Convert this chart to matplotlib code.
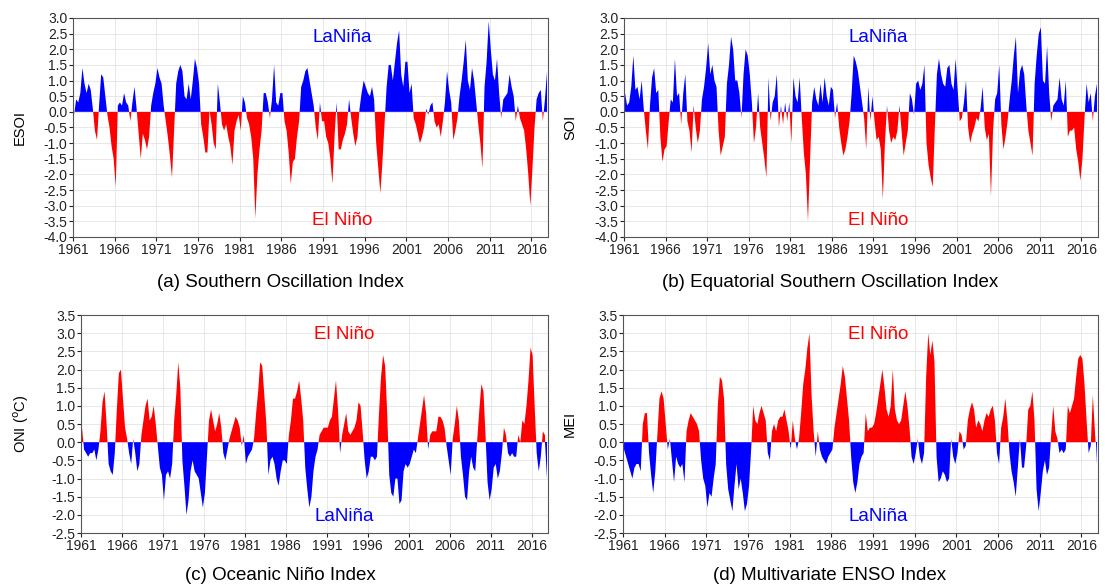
import numpy as np
import matplotlib
matplotlib.use("Agg")
import matplotlib.pyplot as plt
from matplotlib.ticker import FormatStrFormatter

plt.rcParams['font.family'] = ['Liberation Sans', 'DejaVu Sans']

# Seasonal (3-monthly) index values, four per year, 1961-2017
START_YEAR = 1961
END_YEAR = 2018
year_ticks = list(range(1961, 2017, 5))

esoi = [
    -0.1, 0.4, 0.3, 0.6,   1.4, 0.9, 0.6, 0.9,   0.7, 0.1, -0.6, -0.9,   0.2, 1.2, 1.1, 0.5,
    -0.1, -0.5, -1.1, -1.5,  -2.4, 0.2, 0.3, 0.2,   0.6, 0.3, 0.2, -0.3,   0.3, 0.8, 0.1, -0.7,
    -1.5, -0.7, -0.9, -1.2,  -0.8, 0.2, 0.6, 0.9,   1.4, 1.1, 0.9, 0.2,   -0.3, -0.8, -1.4, -2.1,
    -0.6, 0.9, 1.3, 1.5,   1.3, 0.5, 0.4, 0.9,   0.4, 1.0, 1.7, 1.4,   0.9, -0.4, -0.8, -1.3,
    -1.3, 0.05, -0.4, -1.0,  -1.2, 0.9, 0.3, -0.4,  -0.6, -0.4, -0.8, -1.1,  -1.7, -0.6, -0.3, -0.1,
    -0.6, 0.5, 0.3, -0.2,  -0.4, -0.8, -1.5, -3.4,  -2.0, -1.2, -0.6, 0.6,   0.6, 0.3, -0.2, 0.4,
    1.5, 0.3, 0.2, 0.6,   0.6, -0.3, -0.6, -1.3,  -2.3, -1.6, -1.5, -0.8,  -0.3, 0.8, 1.0, 1.3,
    1.4, 1.0, 0.6, 0.2,   -0.5, -0.9, 0.3, -0.3,  -0.3, -0.8, -1.0, -1.5,  -2.3, -0.8, 0.3, -1.2,
    -1.2, -0.9, -0.7, -0.4,  0.4, -0.2, -0.7, -1.1,  -0.8, 0.1, 0.6, 1.0,   0.8, 0.6, 0.5, 0.8,
    0.4, -1.0, -1.8, -2.6,  -1.6, -0.4, 0.8, 1.5,   1.5, 1.0, 1.6, 2.2,   2.6, 1.2, 0.8, 1.6,
    1.6, 0.6, 0.9, -0.2,  -0.4, -0.7, -1.0, -0.8,  -0.5, 0.1, -0.1, 0.2,   0.3, -0.3, -0.5, -0.4,
    -0.8, -0.3, 0.3, 1.3,  0.7, 0.3, -0.9, -0.6,  -0.2, 0.5, 1.0, 1.6,   2.3, 1.0, 0.7, 1.4,
    1.0, 0.3, -0.4, -1.0,  -1.8, 0.8, 1.6, 2.9,   2.0, 1.2, 1.0, 1.7,   0.6, -0.2, 0.4, 0.5,
    0.6, 1.2, 0.8, 0.5,   -0.3, 0.2, -0.2, -0.4,  -0.6, -1.2, -2.0, -3.0,  -1.8, -0.5, 0.4, 0.6,
    0.7, -0.3, 0.4, 1.3,
]

soi = [
    0.6, 0.2, 0.3, 0.8,   1.8, 0.7, 0.8, 0.4,   1.0, 0.1, -0.6, -1.2,   0.2, 1.1, 1.4, 0.6,
    0.7, -0.8, -1.6, -1.2,  -1.1, -0.3, 0.4, 0.3,   1.7, 0.5, 0.6, -0.4,   0.6, 1.2, -0.3, -0.6,
    -1.3, 0.2, -0.5, -1.0,  -0.6, 0.4, 0.8, 1.4,   2.2, 1.2, 1.5, 1.0,   0.8, -0.6, -1.4, -1.1,
    -0.8, 0.9, 1.5, 2.4,   2.0, 1.0, 1.0, 0.6,   -0.2, 1.2, 2.0, 1.8,   1.2, 0.3, -1.0, -0.5,
    0.6, -0.5, -1.0, -1.5,  -2.1, 1.1, -0.3, 0.3,   0.5, 1.2, -0.5, 0.2,   -0.4, 0.3, -0.3, 0.3,
    -1.0, 1.1, 0.5, 0.3,   1.1, -0.2, -1.3, -2.0,  -3.5, -1.5, 0.3, 0.8,   0.4, 0.2, 0.9, 0.3,
    1.1, 0.5, 0.2, 0.8,   0.7, -0.2, 0.3, -0.5,  -1.0, -1.4, -1.2, -0.8,  -0.3, 0.6, 1.8, 1.6,
    1.3, 0.8, 0.3, -0.2,  -1.2, 0.8, -0.3, 0.5,  -0.3, -0.9, -0.8, -1.2,  -2.8, -1.0, 0.2, -0.6,
    -1.0, -0.8, -0.9, -0.6,  0.2, -0.6, -1.4, -1.0,  -0.6, 0.6, 0.4, -0.1,  0.9, 1.0, 0.7, 0.9,
    1.5, -1.0, -1.7, -2.1,  -2.4, -0.5, 1.2, 1.7,   1.2, 0.9, 0.8, 1.4,   1.5, 0.9, 0.7, 1.7,
    0.7, -0.3, -0.2, 0.3,  1.0, -0.5, -1.0, -0.7,  -0.5, -0.2, -0.3, 0.1,  0.8, -0.5, -0.9, -0.7,
    -2.7, -0.6, 0.4, 0.6,  1.5, -0.4, -1.2, -0.8,  -0.3, 0.4, 1.0, 1.8,   2.4, 0.6, 1.3, 1.5,
    1.2, 0.2, -0.6, -1.0,  -1.4, 0.9, 1.8, 2.5,   2.7, 1.0, 0.9, 2.1,   0.6, -0.3, 0.2, 0.3,
    0.4, 1.1, 0.4, 0.2,   1.0, -0.8, -0.6, -0.6,  -0.5, -1.2, -1.6, -2.2,  -1.5, -0.2, 0.9, 0.3,
    0.6, -0.3, 0.5, 0.9,
]

oni = [
    0.4, -0.2, -0.3, -0.4,  -0.3, -0.3, -0.2, -0.5,  -0.2, 0.3, 1.1, 1.4,   0.5, -0.6, -0.8, -0.9,
    -0.3, 0.9, 1.9, 2.0,   1.2, 0.4, 0.1, -0.3,   -0.6, 0.1, -0.3, -0.8,  -0.6, 0.2, 0.6, 1.0,
    1.2, 0.6, 0.7, 1.0,   0.5, -0.1, -0.7, -0.9,  -1.6, -0.9, -0.8, -1.0,  -0.6, 0.6, 1.3, 2.2,
    1.5, -0.5, -1.2, -2.0,  -1.6, -0.8, -0.5, -0.8,  -0.9, -1.0, -1.4, -1.8,  -1.4, -0.4, 0.6, 0.9,
    0.6, 0.3, 0.5, 0.8,   0.4, -0.3, -0.5, -0.2,  0.1, 0.3, 0.5, 0.7,   0.6, 0.4, -0.1, 0.2,
    -0.6, -0.4, -0.3, -0.2,  0.1, 0.8, 1.4, 2.2,   2.1, 1.3, 0.5, -0.9,  -0.5, -0.4, -0.6, -1.0,
    -1.2, -0.8, -0.5, -0.5,  -0.6, 0.2, 0.6, 1.2,   1.2, 1.4, 1.7, 1.2,   0.6, -0.7, -1.3, -1.8,
    -1.5, -0.8, -0.4, -0.2,  0.2, 0.3, 0.4, 0.4,   0.4, 0.6, 0.7, 1.2,   1.7, 0.9, -0.3, 0.2,
    0.5, 0.8, 0.3, 0.2,   0.3, 0.4, 0.6, 1.1,   1.0, 0.3, -0.5, -1.0,  -0.8, -0.4, -0.4, -0.5,
    -0.4, 0.8, 1.8, 2.4,   2.1, 0.8, -0.9, -1.4,  -1.5, -1.0, -1.0, -1.7,  -1.6, -0.8, -0.6, -0.7,
    -0.6, -0.4, -0.2, -0.3,  0.1, 0.5, 0.9, 1.3,   0.8, -0.2, 0.2, 0.3,   0.3, 0.3, 0.7, 0.7,
    0.6, 0.4, -0.1, -0.5,  -0.9, 0.1, 0.5, 1.0,   0.6, -0.4, -0.9, -1.5,  -1.6, -0.8, -0.4, -0.7,
    -0.8, 0.1, 0.9, 1.6,   1.4, 0.2, -1.1, -1.6,  -1.3, -0.7, -0.6, -1.0,  -0.8, -0.3, 0.4, 0.2,
    -0.3, -0.4, -0.3, -0.4,  -0.4, 0.2, 0.0, 0.6,   0.5, 1.0, 1.7, 2.6,   2.4, 1.0, -0.3, -0.8,
    -0.4, 0.3, 0.2, -1.0,
]

mei = [
    -0.2, -0.4, -0.6, -0.8,  -1.0, -0.7, -0.6, -0.6,  -0.8, 0.5, 0.8, 0.8,   -0.3, -0.9, -1.4, -0.8,
    0.2, 1.2, 1.4, 1.2,   0.5, -0.2, 0.1, -0.5,   -1.1, -0.4, -0.6, -0.7,  -0.6, -1.1, 0.3, 0.6,
    0.8, 0.7, 0.6, 0.5,   0.3, -0.5, -1.0, -1.2,  -1.8, -1.4, -1.5, -1.0,  -0.6, 1.0, 1.8, 1.7,
    1.2, -0.6, -1.3, -1.6,  -1.9, -1.2, -0.6, -1.3,  -1.0, -1.4, -1.9, -1.7,  -1.2, -0.2, 1.0, 0.6,
    0.5, 0.8, 1.0, 0.8,   0.6, -0.3, -0.5, 0.3,   0.5, 0.3, 0.6, 0.7,   0.7, 0.9, 0.6, 0.3,
    -0.2, 0.6, 0.1, -0.2,  0.1, 0.8, 1.6, 2.0,   2.6, 3.0, 1.3, 0.3,   -0.4, 0.3, -0.2, -0.4,
    -0.5, -0.6, -0.4, -0.3,  -0.2, 0.4, 0.8, 1.2,   1.6, 2.1, 1.8, 1.2,   0.6, -0.4, -1.1, -1.4,
    -1.1, -0.6, -0.4, -0.3,  0.8, 0.3, 0.4, 0.4,   0.5, 0.8, 1.2, 1.6,   2.0, 1.5, 0.9, 0.7,
    1.0, 2.0, 0.9, 0.6,   0.5, 0.6, 1.0, 1.4,   1.0, 0.4, -0.4, -0.6,  -0.3, 0.1, -0.4, -0.6,
    -0.3, 1.8, 3.0, 2.4,   2.8, 2.2, -0.4, -1.1,  -1.0, -0.8, -0.9, -1.1,  -1.0, 0.1, -0.4, -0.6,
    -0.3, 0.3, 0.2, -0.2,  -0.1, 0.6, 0.9, 1.1,   0.9, 0.4, 0.6, 0.5,   0.3, 0.6, 0.8, 0.7,
    0.9, 1.0, 0.6, -0.3,  -0.6, 0.4, 0.7, 1.2,   0.6, -0.3, -0.8, -1.1,  -1.5, -0.7, 0.1, -0.7,
    -0.7, -0.1, 0.9, 1.0,   1.4, 0.6, -1.3, -1.9,  -1.4, -0.8, -0.5, -0.9,  -0.7, 0.2, 1.0, 0.3,
    0.1, -0.3, -0.2, -0.3,  -0.2, 1.0, 0.8, 1.0,   1.2, 1.8, 2.3, 2.4,   2.3, 1.6, 0.6, -0.3,
    -0.1, 1.3, 0.3, -0.6,
]

BLUE = '#0000ff'
RED = '#ff0000'

panels = [
    # axes rect, values, y label and its pad, y range, fill colours above / below zero,
    # phase labels (axes-fraction x, text, colour), caption position and text
    dict(rect=[0.0661, 0.5970, 0.4299, 0.3724], vals=esoi, ylabel='ESOI', pad=12,
         ylim=(-4.0, 3.0), up=BLUE, down=RED, tx=0.566,
         top=('LaNiña', BLUE), bot=('El Niño', RED),
         cap_xy=(0.2534, 0.5204), caption='(a) Southern Oscillation Index'),
    dict(rect=[0.5647, 0.5970, 0.4290, 0.3724], vals=soi, ylabel='SOI', pad=12,
         ylim=(-4.0, 3.0), up=BLUE, down=RED, tx=0.536,
         top=('LaNiña', BLUE), bot=('El Niño', RED),
         cap_xy=(0.7511, 0.5204), caption='(b) Equatorial Southern Oscillation Index'),
    dict(rect=[0.0733, 0.0935, 0.4226, 0.3707], vals=oni, ylabel='ONI ($^{\\rm o}$C)', pad=15,
         ylim=(-2.5, 3.5), up=RED, down=BLUE, tx=0.563,
         top=('El Niño', RED), bot=('LaNiña', BLUE),
         cap_xy=(0.2534, 0.0221), caption='(c) Oceanic Niño Index'),
    dict(rect=[0.5638, 0.0935, 0.4299, 0.3707], vals=mei, ylabel='MEI', pad=12,
         ylim=(-2.5, 3.5), up=RED, down=BLUE, tx=0.537,
         top=('El Niño', RED), bot=('LaNiña', BLUE),
         cap_xy=(0.7511, 0.0221), caption='(d) Multivariate ENSO Index'),
]

fig = plt.figure(figsize=(11.05, 5.88), dpi=100)

for p in panels:
    ax = fig.add_axes(p['rect'])
    v = np.asarray(p['vals'], dtype=float)
    t = START_YEAR + (np.arange(len(v)) + 0.5) / 4.0
    ax.fill_between(t, 0, v, where=v >= 0, interpolate=True, color=p['up'], lw=0)
    ax.fill_between(t, 0, v, where=v <= 0, interpolate=True, color=p['down'], lw=0)

    lo, hi = p['ylim']
    ax.set_xlim(START_YEAR, END_YEAR)
    ax.set_ylim(lo, hi)
    ax.set_yticks(np.arange(lo, hi + 0.01, 0.5))
    ax.yaxis.set_major_formatter(FormatStrFormatter('%.1f'))
    ax.set_xticks(year_ticks)
    ax.tick_params(labelsize=10, length=3, width=0.8, pad=1, colors='#222222')
    ax.set_ylabel(p['ylabel'], fontsize=10.5, labelpad=p['pad'])

    ax.grid(True, color='#e4e4e4', lw=0.6)
    ax.set_axisbelow(True)
    for s in ax.spines.values():
        s.set_color('#555555')
        s.set_linewidth(0.8)

    ax.text(p['tx'], 0.912, p['top'][0], color=p['top'][1], fontsize=13.5,
            ha='center', va='center', transform=ax.transAxes)
    ax.text(p['tx'], 0.076, p['bot'][0], color=p['bot'][1], fontsize=13.5,
            ha='center', va='center', transform=ax.transAxes)
    fig.text(p['cap_xy'][0], p['cap_xy'][1], p['caption'], fontsize=13.5,
             ha='center', va='center')

fig.savefig('out.png', dpi=100, facecolor='white')
